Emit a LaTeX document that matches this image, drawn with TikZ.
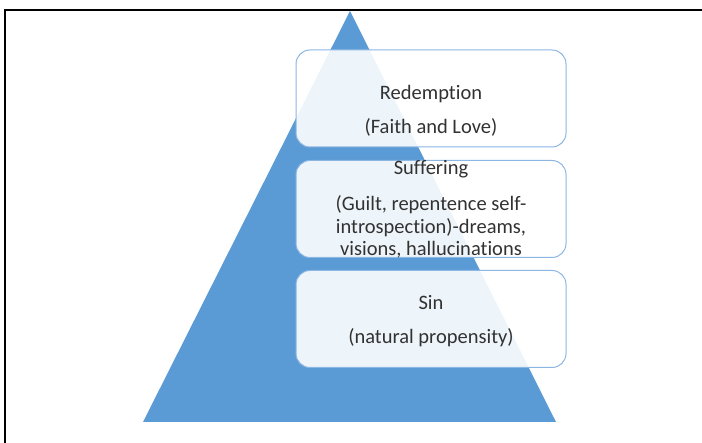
\documentclass[tikz,border=0pt]{standalone}
\usepackage{fontspec}
\setmainfont[Ligatures={NoCommon}]{Carlito}
\definecolor{triblue}{RGB}{91,155,213}
\definecolor{boxline}{RGB}{140,182,228}
\definecolor{txt}{RGB}{50,50,50}
\begin{document}
\begin{tikzpicture}[x=1pt,y=-1pt,
  layerbox/.style={draw=boxline, line width=1pt, fill=white, fill opacity=0.9,
    rounded corners=14pt, minimum width=270pt, minimum height=97pt, inner sep=0pt},
  layertext/.style={text=txt, align=center, inner sep=0pt,
    font=\fontsize{20.5}{22.5}\selectfont}]
\useasboundingbox (0,0) rectangle (702,443);
\fill[white] (0,0) rectangle (702,443);
% frame
\draw[line width=2pt] (5,443) -- (5,10) -- (702,10);
% pyramid
\fill[triblue] (350,11) coordinate (apex) -- (556,422) coordinate (br) -- (143,422) coordinate (bl) -- cycle;
% boxes
\node[layerbox] (top) at (431,98.5) {};
\node[layerbox] (mid) at (431,209) {};
\node[layerbox] (bot) at (431,319) {};
% texts
\node[layertext] (toptext) at (431,110.5) {Redemption\\[11.5pt](Faith and Love)};
\node[layertext] (midtext) at (431,209.5) {Suffering\\[13.5pt](Guilt, repentence self-\\introspection)-dreams,\\visions, hallucinations};
\node[layertext] (bottext) at (431,321.5) {Sin\\[11.5pt](natural propensity)};
\end{tikzpicture}
\end{document}
